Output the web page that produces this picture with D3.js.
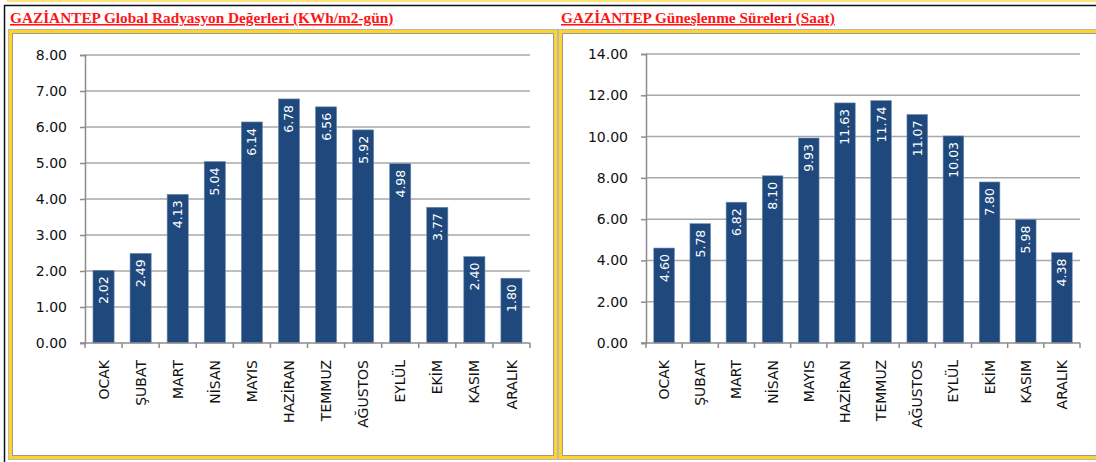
<!DOCTYPE html>
<html>
<head>
<meta charset="utf-8">
<script src="https://cdn.jsdelivr.net/npm/d3@7"></script>
<style>
  body { margin: 0; background: #fff; }
  svg { display: block; }
</style>
</head>
<body>
<svg id="chart" width="1096" height="462"></svg>
<script>
// months (x categories)
var months = ["OCAK", "ŞUBAT", "MART", "NİSAN", "MAYIS", "HAZİRAN", "TEMMUZ", "AĞUSTOS", "EYLÜL", "EKİM", "KASIM", "ARALIK"];

// global radiation, KWh/m2-gun
var radyasyon = [2.02, 2.49, 4.13, 5.04, 6.14, 6.78, 6.56, 5.92, 4.98, 3.77, 2.40, 1.80];
// sunshine hours
var gunesSure = [4.60, 5.78, 6.82, 8.10, 9.93, 11.63, 11.74, 11.07, 10.03, 7.80, 5.98, 4.38];

var ticks1 = [0, 1, 2, 3, 4, 5, 6, 7, 8];
var ticks2 = [0, 2, 4, 6, 8, 10, 12, 14];

var title1 = "GAZİANTEP Global Radyasyon Değerleri (KWh/m2-gün)";
var title2 = "GAZİANTEP Güneşlenme Süreleri (Saat)";

var svg = d3.select("#chart");
var barColor = "#1f497d";
var gridColor = "#a9a9a9";
var font = "DejaVu Sans, Verdana, sans-serif";

// page frame lines
svg.append("rect").attr("x", 7).attr("y", 0).attr("width", 1089).attr("height", 2).attr("fill", "#ffe27a");
svg.append("line").attr("x1", 4).attr("x2", 1096).attr("y1", 5.5).attr("y2", 5.5).attr("stroke", "#111").attr("stroke-width", 1.5);
svg.append("line").attr("x1", 4.5).attr("x2", 4.5).attr("y1", 5).attr("y2", 462).attr("stroke", "#111").attr("stroke-width", 1.5);

function panel(x, y, w, h) {
  svg.append("rect").attr("x", x - 0.5).attr("y", y - 0.5).attr("width", w + 1).attr("height", h + 1)
    .attr("fill", "none").attr("stroke", "#b8b8b8").attr("stroke-width", 1);
  svg.append("rect").attr("x", x + 1.5).attr("y", y + 1.5).attr("width", w - 3).attr("height", h - 3)
    .attr("fill", "#fff").attr("stroke", "#ffd32a").attr("stroke-width", 3);
  svg.append("rect").attr("x", x + 3.5).attr("y", y + 3.5).attr("width", w - 7).attr("height", h - 7)
    .attr("fill", "none").attr("stroke", "#9a9a9a").attr("stroke-width", 1);
}

function title(txt, x) {
  svg.append("text").attr("x", x).attr("y", 23)
    .attr("font-family", "Liberation Serif, Times New Roman, serif")
    .attr("font-weight", "bold").attr("font-size", 15.3)
    .attr("fill", "#ff1414").attr("text-decoration", "underline")
    .text(txt);
}

function drawChart(cfg) {
  var g = svg.append("g");

  var x = d3.scaleBand().domain(months)
    .range([cfg.left, cfg.right])
    .paddingInner(0.43).paddingOuter(0.215);
  var y = d3.scaleLinear().domain([0, cfg.max]).range([cfg.bottom, cfg.top]);

  // gridlines
  g.selectAll(".grid").data(cfg.ticks.slice(1)).enter().append("line")
    .attr("x1", cfg.left).attr("x2", cfg.right)
    .attr("y1", function(d) { return y(d); }).attr("y2", function(d) { return y(d); })
    .attr("stroke", gridColor).attr("stroke-width", 1.5);

  // bars
  g.selectAll(".bar").data(cfg.values).enter().append("rect")
    .attr("x", function(d, i) { return x(months[i]); })
    .attr("y", function(d) { return y(d); })
    .attr("width", x.bandwidth())
    .attr("height", function(d) { return cfg.bottom - y(d); })
    .attr("fill", barColor)
    .attr("stroke", "#6f8db5").attr("stroke-width", 0.6);

  // value labels inside bars
  g.selectAll(".lbl").data(cfg.values).enter().append("text")
    .attr("transform", function(d, i) {
      return "translate(" + (x(months[i]) + x.bandwidth() / 2) + "," + (y(d) + 6) + ") rotate(-90)";
    })
    .attr("text-anchor", "end").attr("dy", "0.36em")
    .attr("font-family", font).attr("font-size", 12.5)
    .attr("fill", "#fff")
    .text(function(d) { return d3.format(".2f")(d); });

  // y axis
  var yAxis = d3.axisLeft(y).tickValues(cfg.ticks).tickSize(5).tickPadding(13)
    .tickFormat(d3.format(".2f"));
  var ya = g.append("g").attr("transform", "translate(" + cfg.left + ",0)").call(yAxis);
  ya.select(".domain").attr("stroke", "#8c8c8c").attr("stroke-width", 1.5);
  ya.selectAll(".tick line").attr("stroke", "#8c8c8c").attr("stroke-width", 1.5);
  ya.selectAll(".tick text").attr("font-family", font).attr("font-size", 14).attr("fill", "#111");

  // x axis line with boundary ticks
  g.append("line").attr("x1", cfg.left - 5).attr("x2", cfg.right)
    .attr("y1", cfg.bottom).attr("y2", cfg.bottom)
    .attr("stroke", "#8c8c8c").attr("stroke-width", 1.5);
  g.selectAll(".xt").data(d3.range(months.length + 1)).enter().append("line")
    .attr("x1", function(i) { return x.range()[0] + i * x.step(); })
    .attr("x2", function(i) { return x.range()[0] + i * x.step(); })
    .attr("y1", cfg.bottom).attr("y2", cfg.bottom + 5)
    .attr("stroke", "#8c8c8c").attr("stroke-width", 1.5);

  // category labels
  g.selectAll(".xl").data(months).enter().append("text")
    .attr("transform", function(d) {
      return "translate(" + (x(d) + x.bandwidth() / 2) + "," + (cfg.bottom + 17) + ") rotate(-90)";
    })
    .attr("text-anchor", "end").attr("dy", "0.36em")
    .attr("font-family", font).attr("font-size", 14)
    .attr("fill", "#111")
    .text(function(d) { return d; });
}

panel(9, 30, 548, 429);
panel(559, 30, 560, 429);

title(title1, 10);
title(title2, 561);

drawChart({ values: radyasyon, ticks: ticks1, max: 8, left: 85, right: 530, top: 55, bottom: 343 });
drawChart({ values: gunesSure, ticks: ticks2, max: 14, left: 646, right: 1080, top: 54, bottom: 343 });
</script>
</body>
</html>
